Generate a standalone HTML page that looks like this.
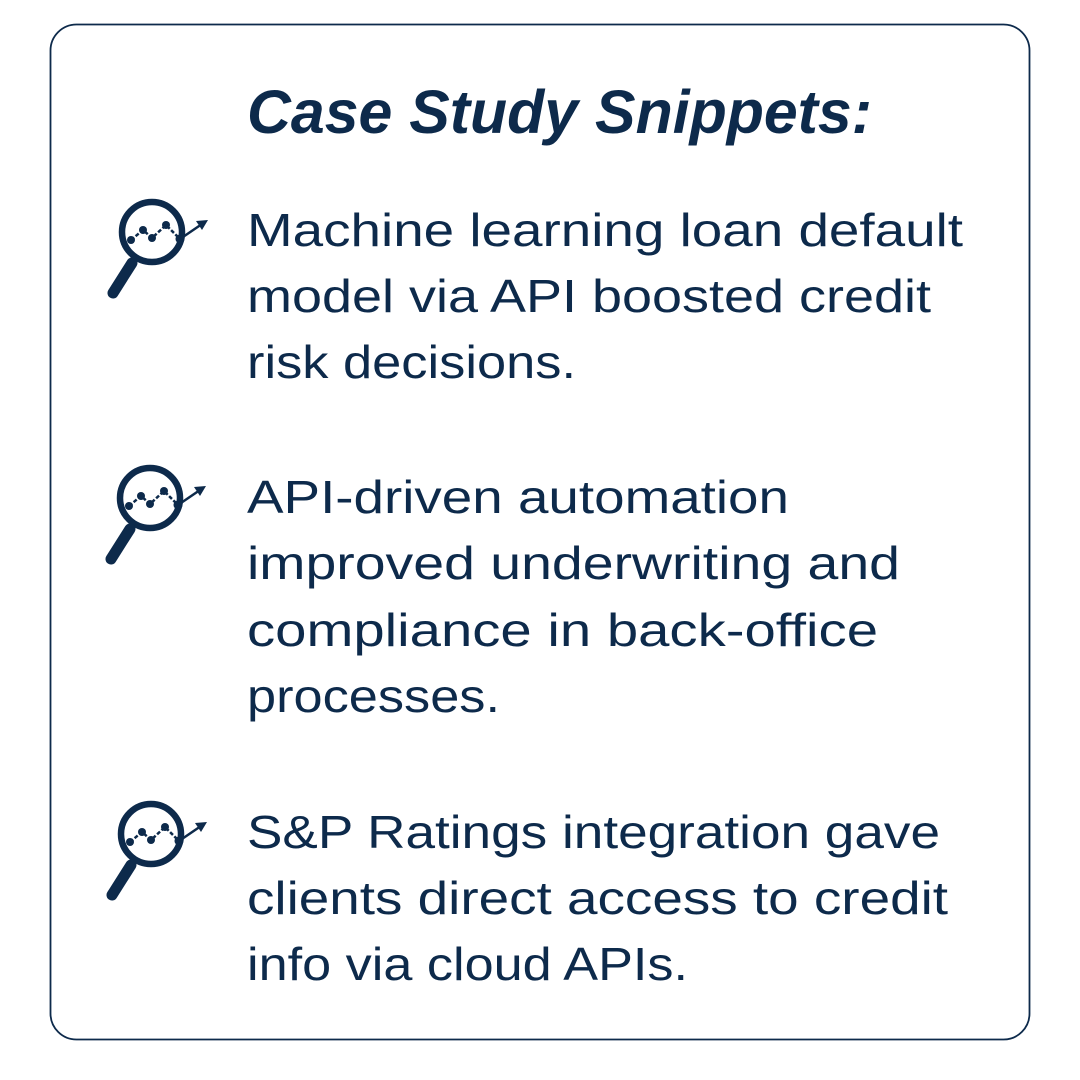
<!DOCTYPE html>
<html><head><meta charset="utf-8"><style>
html,body{margin:0;padding:0;background:#fff;}
svg{display:block;}
text{font-family:"Liberation Sans",sans-serif;fill:#0d2a4b;}
</style></head><body>
<svg width="1080" height="1080" viewBox="0 0 1080 1080" xmlns="http://www.w3.org/2000/svg">
<defs>
<g id="ic">
<circle cx="0" cy="0" r="30" fill="none" stroke="#0d2a4b" stroke-width="6.5"/>
<line x1="-20" y1="31" x2="-39" y2="61" stroke="#0d2a4b" stroke-width="11" stroke-linecap="round"/>
<polyline points="-21,8 -9,-2 0,6 14,-7 28,7" fill="none" stroke="#0d2a4b" stroke-width="2.5" stroke-dasharray="4,2"/>
<circle cx="-21" cy="8" r="4" fill="#0d2a4b"/>
<circle cx="-9" cy="-2" r="4" fill="#0d2a4b"/>
<circle cx="0" cy="6" r="4" fill="#0d2a4b"/>
<circle cx="14" cy="-7" r="4" fill="#0d2a4b"/>
<circle cx="28" cy="7" r="4.5" fill="#0d2a4b"/>
<line x1="28" y1="7" x2="50" y2="-8" stroke="#0d2a4b" stroke-width="2.5"/>
<polygon points="56,-12 44,-11 50,-2" fill="#0d2a4b"/>
</g>
</defs>
<rect x="50.5" y="24.5" width="979" height="1015" rx="26" fill="#fff" stroke="#0d2a4b" stroke-width="1.8"/>
<text x="247" y="133" font-size="61" font-weight="bold" font-style="italic" textLength="625" lengthAdjust="spacingAndGlyphs">Case Study Snippets:</text>
<use href="#ic" x="152" y="232"/>
<use href="#ic" x="150" y="498"/>
<use href="#ic" x="151" y="834"/>
<g font-size="46">
<text x="247" y="246" textLength="716" lengthAdjust="spacingAndGlyphs">Machine learning loan default</text>
<text x="247" y="312" textLength="684" lengthAdjust="spacingAndGlyphs">model via API boosted credit</text>
<text x="247" y="378" textLength="329" lengthAdjust="spacingAndGlyphs">risk decisions.</text>
<text x="247" y="513" textLength="542" lengthAdjust="spacingAndGlyphs">API-driven automation</text>
<text x="247" y="579" textLength="653" lengthAdjust="spacingAndGlyphs">improved underwriting and</text>
<text x="247" y="646" textLength="631" lengthAdjust="spacingAndGlyphs">compliance in back-office</text>
<text x="247" y="712" textLength="253" lengthAdjust="spacingAndGlyphs">processes.</text>
<text x="247" y="848" textLength="693" lengthAdjust="spacingAndGlyphs">S&amp;P Ratings integration gave</text>
<text x="247" y="914" textLength="701" lengthAdjust="spacingAndGlyphs">clients direct access to credit</text>
<text x="247" y="980" textLength="441" lengthAdjust="spacingAndGlyphs">info via cloud APIs.</text>
</g>
</svg>
</body></html>
